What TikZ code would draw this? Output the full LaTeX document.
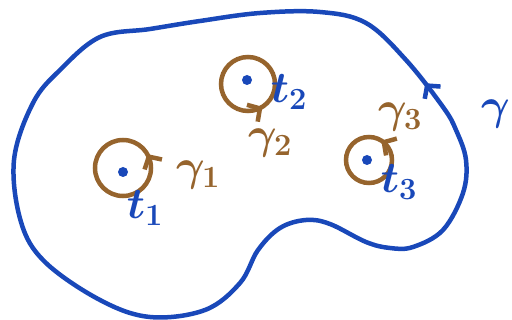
\RequirePackage{fix-cm}
\documentclass[tikz,border=0pt]{standalone}
\usetikzlibrary{arrows.meta,decorations.markings}
\definecolor{penblue}{RGB}{25,72,185}
\definecolor{penbrown}{RGB}{150,100,45}

\begin{document}
\begin{tikzpicture}[
    x=1pt, y=1pt,
    outline/.style={color=penblue, line width=4.5pt, line cap=round, line join=round},
    loopline/.style={color=penbrown, line width=4.5pt},
    pole/.style={circle, fill=penblue, inner sep=0pt, minimum size=10pt},
    lbl/.style={font=\fontsize{44}{50}\selectfont\boldmath, inner sep=0pt},
    orient/.style={postaction={decorate, decoration={markings,
        mark=at position #1 with {\arrow{Straight Barb[length=9pt,width=20pt]}}}}},
    >=Stealth
]
\useasboundingbox (0,0) rectangle (512,-320);

% outer contour
\draw[outline, orient=0.045] plot[smooth cycle, tension=0.6] coordinates {
    (466,-160) (456,-130) (443,-107) (406,-60) (366,-23) (320,-12) (260,-13)
    (200,-21) (150,-29) (100,-37) (60,-70) (33,-103) (14,-160)
    (21,-222) (45,-262) (100,-300) (150,-317) (205,-310) (240,-283)
    (258,-250) (280,-228) (306,-220) (330,-224) (366,-242) (390,-248) (413,-247)
    (443,-230) (463,-193)};
\node[lbl, penblue, anchor=east] (gout) at (510,-114) {$\gamma$};

% poles
\node[pole] (p1) at (123,-172) {};
\node[pole] (p2) at (247,-80) {};
\node[pole] (p3) at (367,-160) {};

% small loops
\draw[loopline, orient=0.083] ([yshift=4pt]p1.center) circle[radius=28];
\draw[loopline, orient=0.84] ([xshift=1pt,yshift=-4pt]p2.center) circle[radius=27];
\draw[loopline, orient=0.16] ([xshift=2pt]p3.center) circle[radius=23];

\node[lbl, penbrown] (g1) at (198,-175) {$\gamma_1$};
\node[lbl, penblue] (t1) at (145,-208) {$t_1$};
\node[lbl, penblue] (t2) at (289,-92) {$t_2$};
\node[lbl, penbrown] (g2) at (270,-143) {$\gamma_2$};
\node[lbl, penbrown] (g3) at (400,-117) {$\gamma_3$};
\node[lbl, penblue] (t3) at (399,-182) {$t_3$};
\end{tikzpicture}
\end{document}
